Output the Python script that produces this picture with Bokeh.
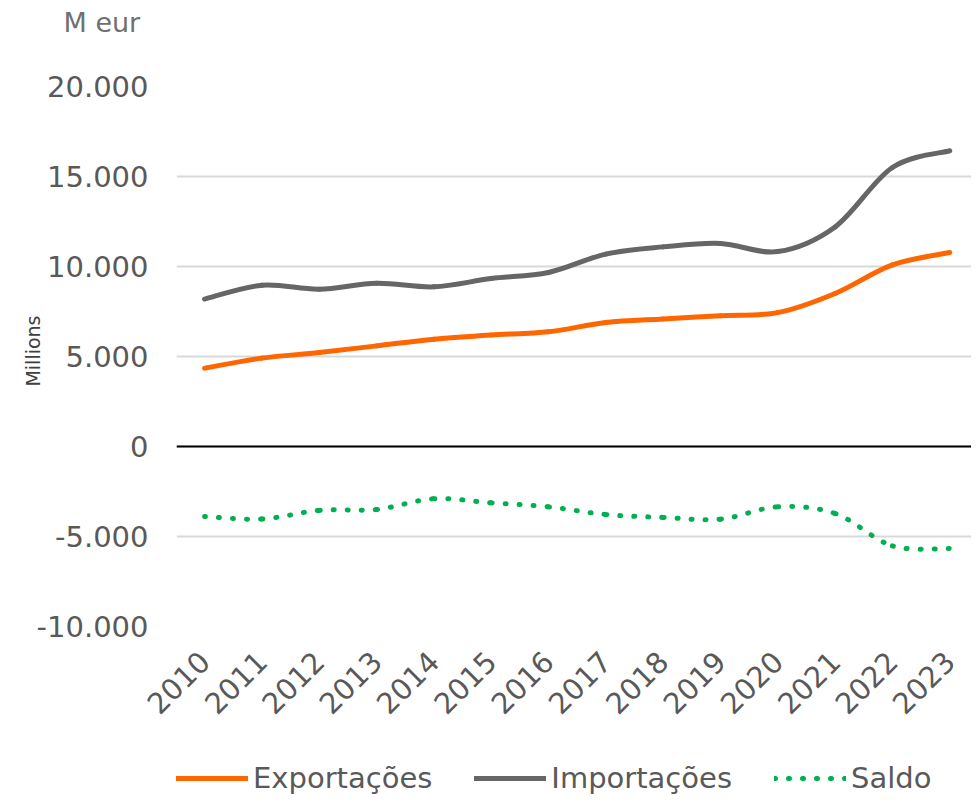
import math
from bokeh.plotting import figure
from bokeh.layouts import column
from bokeh.models import (ColumnDataSource, FixedTicker, Span, Legend,
                          LegendItem, Range1d, Title)
from bokeh.embed import file_html
from bokeh.resources import INLINE

# ---------------- data ----------------
years = [2010, 2011, 2012, 2013, 2014, 2015, 2016, 2017, 2018, 2019, 2020, 2021, 2022, 2023]
year_labels = [str(y) for y in years]
exportacoes = [4350, 4910, 5220, 5590, 5960, 6200, 6370, 6890, 7090, 7260, 7440, 8500, 10090, 10780]
importacoes = [8190, 8960, 8740, 9070, 8870, 9330, 9670, 10690, 11090, 11280, 10830, 12200, 15500, 16430]
saldo = [-3890, -4030, -3550, -3500, -2900, -3130, -3350, -3780, -3940, -4040, -3350, -3720, -5520, -5670]
y_ticks = [-10000, -5000, 0, 5000, 10000, 15000, 20000]
y_tick_labels = ["-10.000", "-5.000", "0", "5.000", "10.000", "15.000", "20.000"]
series_names = ["Exportações", "Importações", "Saldo"]
unit_label = "M eur"
axis_note = "Millions"

FONT = "DejaVu Sans"
ORANGE = "#FF6600"
GREY = "#666666"
GREEN = "#00B050"
TXT = "#595959"


def smooth_segments(xs, ys):
    """Cubic Bezier segments (Excel-style smoothed line) between data points."""
    n = len(xs)
    d = dict(x0=[], y0=[], x1=[], y1=[], cx0=[], cy0=[], cx1=[], cy1=[])
    for i in range(n - 1):
        a = max(i - 1, 0)
        b = min(i + 2, n - 1)
        d["x0"].append(xs[i]); d["y0"].append(ys[i])
        d["x1"].append(xs[i + 1]); d["y1"].append(ys[i + 1])
        d["cx0"].append(xs[i] + (xs[i + 1] - xs[a]) / 6.0)
        d["cy0"].append(ys[i] + (ys[i + 1] - ys[a]) / 6.0)
        d["cx1"].append(xs[i + 1] - (xs[b] - xs[i]) / 6.0)
        d["cy1"].append(ys[i + 1] - (ys[b] - ys[i]) / 6.0)
    return ColumnDataSource(d)


p = figure(width=971, height=755, output_backend="svg", toolbar_location=None,
           x_range=Range1d(2009.51, 2023.38), y_range=Range1d(-10000, 20000),
           min_border_left=176, min_border_right=0, min_border_top=86,
           min_border_bottom=129)
p.outline_line_color = None
p.background_fill_color = "white"
p.border_fill_color = "white"

# grid
p.xgrid.grid_line_color = None
p.ygrid.ticker = FixedTicker(ticks=y_ticks)
p.ygrid.grid_line_color = "#D9D9D9"
p.ygrid.grid_line_width = 2

# y axis
p.yaxis.ticker = FixedTicker(ticks=y_ticks)
p.yaxis.major_label_overrides = {t: l for t, l in zip(y_ticks, y_tick_labels)}
p.yaxis.axis_line_color = None
p.yaxis.major_tick_line_color = None
p.yaxis.minor_tick_line_color = None
p.yaxis.major_tick_out = 0
p.yaxis.major_tick_in = 0
p.yaxis.major_label_standoff = 28
p.yaxis.major_label_text_font = FONT
p.yaxis.major_label_text_font_size = "29px"
p.yaxis.major_label_text_color = TXT

# x axis
p.xaxis.ticker = FixedTicker(ticks=years)
p.xaxis.major_label_overrides = {y: l for y, l in zip(years, year_labels)}
p.xaxis.major_label_orientation = math.pi / 4
p.xaxis.axis_line_color = None
p.xaxis.major_tick_line_color = None
p.xaxis.minor_tick_line_color = None
p.xaxis.major_tick_out = 0
p.xaxis.major_tick_in = 0
p.xaxis.major_label_standoff = 30
p.xaxis.major_label_text_font = FONT
p.xaxis.major_label_text_font_size = "29px"
p.xaxis.major_label_text_color = TXT

# zero line
p.add_layout(Span(location=0, dimension="width", line_color="black", line_width=2))

styles = [
    (exportacoes, dict(line_color=ORANGE, line_width=5, line_cap="round")),
    (importacoes, dict(line_color=GREY, line_width=5, line_cap="round")),
    (saldo, dict(line_color=GREEN, line_width=5, line_cap="round", line_dash="1 13")),
]

for ys, st in styles:
    src = smooth_segments(years, ys)
    p.bezier(x0="x0", y0="y0", x1="x1", y1="y1", cx0="cx0", cy0="cy0",
             cx1="cx1", cy1="cy1", source=src, **st)

# unit text at top-left (spacer title closest to frame, then the unit)
p.add_layout(Title(text=" ", text_font_size="1px", standoff=46), "above")
p.add_layout(Title(text=unit_label, align="left", offset=-113, text_font=FONT,
                   text_font_size="27px", text_font_style="normal",
                   text_color="#707070", standoff=0), "above")

# "Millions" note on the left, next to the value axis
note_kw = dict(text=axis_note, align="right", offset=229, text_font=FONT,
               text_font_size="19px", text_font_style="normal",
               text_color="#404040")
try:
    note = Title(standoff=-20, **note_kw)
except Exception:
    note = Title(standoff=0, **note_kw)
p.add_layout(note, "left")

# ---------------- legend strip below the chart ----------------
leg = figure(width=971, height=40, output_backend="svg", toolbar_location=None,
             x_range=Range1d(0, 1), y_range=Range1d(0, 1), min_border=0)
leg.axis.visible = False
leg.grid.visible = False
leg.outline_line_color = None
leg.background_fill_color = "white"
leg.border_fill_color = "white"

items = []
for name, (ys, st) in zip(series_names, styles):
    # series drawn out of this strip's visible range: only the legend sample shows
    r = leg.line(x=years, y=ys, **st)
    items.append(LegendItem(label=name, renderers=[r]))

legend = Legend(items=items, orientation="horizontal", location=(0, 0),
                glyph_width=72, glyph_height=20, label_standoff=5, spacing=42,
                padding=0, margin=0, border_line_color=None,
                background_fill_alpha=0,
                label_text_font=FONT, label_text_font_size="29px",
                label_text_color=TXT)
leg.add_layout(legend, "center")

layout = column(p, leg, spacing=0)
open("out.html", "w").write(file_html(layout, INLINE))
